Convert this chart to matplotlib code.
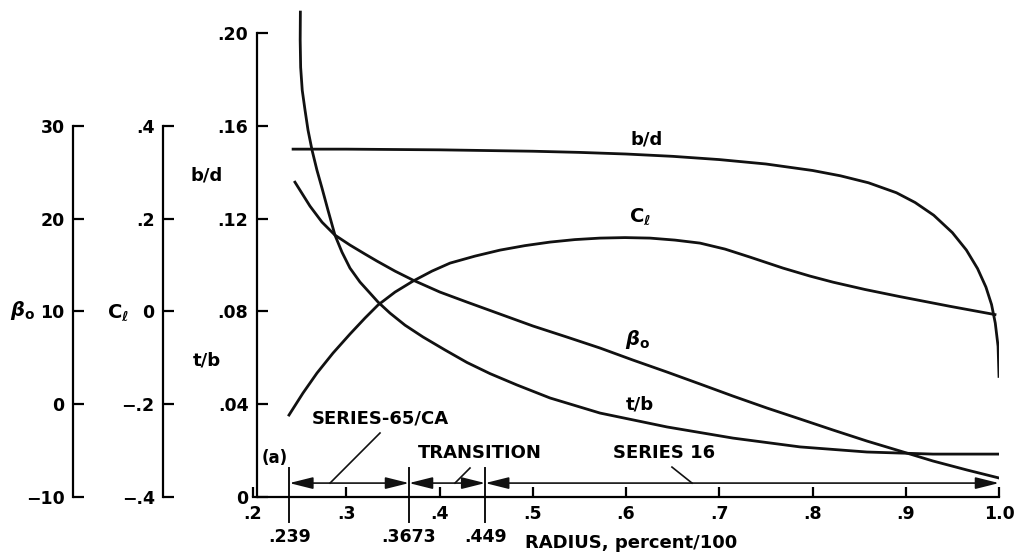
import numpy as np
import matplotlib.pyplot as plt

plt.rcParams['font.family'] = ['DejaVu Sans']
plt.rcParams['font.weight'] = 'bold'
plt.rcParams['mathtext.fontset'] = 'dejavusans'

# b/d  (main scale)
radius_bd = [0.243, 0.30, 0.40, 0.50, 0.55, 0.60, 0.65, 0.70, 0.75, 0.80, 0.83, 0.86, 0.89,
             0.91, 0.93, 0.95, 0.965, 0.977, 0.986, 0.992, 0.996, 0.999, 1.0]
bd = [0.1500, 0.1500, 0.1497, 0.1491, 0.1486, 0.1479, 0.1469, 0.1455, 0.1436, 0.1408, 0.1385,
      0.1355, 0.1312, 0.1270, 0.1215, 0.1140, 0.1065, 0.0985, 0.0905, 0.083, 0.075, 0.065, 0.052]

# t/b  (main scale)
radius_tb = [0.2508, 0.2506, 0.2511, 0.2528, 0.2558, 0.2590, 0.2633, 0.2686, 0.2740, 0.2804,
             0.2879, 0.2954, 0.3040, 0.3147, 0.3255, 0.3340, 0.3469, 0.3630, 0.3823, 0.4059,
             0.4295, 0.4542, 0.4831, 0.5185, 0.5721, 0.6440, 0.7147, 0.7866, 0.8584, 0.9292, 1.0]
tb = [0.2091, 0.1970, 0.1853, 0.1754, 0.1668, 0.1582, 0.1496, 0.1409, 0.1332, 0.1237,
      0.1129, 0.1056, 0.0987, 0.0927, 0.0879, 0.0841, 0.0793, 0.0741, 0.0690, 0.0634,
      0.0580, 0.0532, 0.0483, 0.0427, 0.0362, 0.0302, 0.0254, 0.0216, 0.0194, 0.0185, 0.0185]

# beta_o, deg
radius_beta = [0.2450, 0.2611, 0.2740, 0.2879, 0.3040, 0.3201, 0.3330, 0.3523, 0.3716, 0.4005,
               0.4295, 0.4649, 0.5003, 0.5367, 0.5721, 0.6075, 0.6440, 0.6794, 0.7147, 0.7512,
               0.7866, 0.8220, 0.8584, 0.8938, 0.9292, 0.9657, 1.0]
beta = [23.94, 21.36, 19.63, 18.23, 17.16, 16.19, 15.43, 14.35, 13.38, 12.09,
        11.01, 9.72, 8.43, 7.24, 6.06, 4.76, 3.47, 2.18, 0.88, -0.41,
        -1.59, -2.78, -3.97, -5.04, -6.12, -7.09, -7.95]

# C_l
radius_cl = [0.2386, 0.2536, 0.2686, 0.2858, 0.3040, 0.3201, 0.3340, 0.3523, 0.3716, 0.3920,
             0.4113, 0.4381, 0.4649, 0.4917, 0.5185, 0.5453, 0.5721, 0.5989, 0.6257, 0.6525,
             0.6794, 0.7062, 0.7330, 0.7684, 0.7973, 0.8220, 0.8563, 0.8938, 0.9475, 0.9957]
cl = [-0.2233, -0.1759, -0.1328, -0.0897, -0.0487, -0.0142, 0.0138, 0.0418, 0.0655, 0.0871,
      0.1043, 0.1194, 0.1323, 0.1420, 0.1496, 0.1550, 0.1582, 0.1593, 0.1582, 0.1539,
      0.1474, 0.1345, 0.1172, 0.0935, 0.0763, 0.0632, 0.0474, 0.0320, 0.0111, -0.0067]

x_ticks = [0.2, 0.3, 0.4, 0.5, 0.6, 0.7, 0.8, 0.9, 1.0]
x_labels = ['.2', '.3', '.4', '.5', '.6', '.7', '.8', '.9', '1.0']
main_ticks = [0, 0.04, 0.08, 0.12, 0.16, 0.20]
main_labels = ['0', '.04', '.08', '.12', '.16', '.20']
beta_ticks = [-10, 0, 10, 20, 30]
beta_labels = ['\u221210', '0', '10', '20', '30']
cl_ticks = [-0.4, -0.2, 0, 0.2, 0.4]
cl_labels = ['\u2212.4', '\u2212.2', '0', '.2', '.4']

bounds = [0.239, 0.3673, 0.449]
bound_labels = ['.239', '.3673', '.449']

fs = 12.5
fs_note = 13
lw = 2.0
k = '#111111'

fig = plt.figure(figsize=(10.15, 5.59), dpi=100)
ax = fig.add_axes([253 / 1015, 1 - 497 / 559, 746 / 1015, 487 / 559])
ax.set_xlim(0.2, 1.0)
ax.set_ylim(0, 0.21)

def style_axis(a, pos, lo, hi, ticks, labels):
    for s in ['top', 'right', 'bottom']:
        a.spines[s].set_visible(False)
    a.spines['left'].set_visible(True)
    a.spines['left'].set_position(('axes', pos))
    a.spines['left'].set_bounds(lo, hi)
    a.spines['left'].set_linewidth(1.6)
    a.yaxis.tick_left()
    a.set_yticks(ticks)
    a.set_yticklabels(labels)
    a.tick_params(axis='y', direction='in', length=8, width=1.6, pad=6, labelsize=fs)

style_axis(ax, 0.005, 0, 0.20, main_ticks, main_labels)
ax.spines['bottom'].set_visible(True)
ax.spines['bottom'].set_linewidth(1.6)
ax.set_xticks(x_ticks)
ax.set_xticklabels(x_labels)
ax.tick_params(axis='x', direction='in', length=7, width=1.6, pad=6, labelsize=fs)

ax_b = ax.twinx()
ax_b.set_ylim(-10, -10 + 250 * 0.21)
style_axis(ax_b, (73 - 253) / 746, -10, 30, beta_ticks, beta_labels)

ax_c = ax.twinx()
ax_c.set_ylim(-0.4, -0.4 + 5 * 0.21)
style_axis(ax_c, (163 - 253) / 746, -0.4, 0.4, cl_ticks, cl_labels)

ax.plot(radius_bd, bd, color=k, lw=lw, solid_joinstyle='round')
ax.plot(radius_tb, tb, color=k, lw=lw, solid_joinstyle='round')
ax_b.plot(radius_beta, beta, color=k, lw=lw, solid_joinstyle='round')
ax_c.plot(radius_cl, cl, color=k, lw=lw, solid_joinstyle='round')

# curve labels
ax.text(0.6225, 0.1543, 'b/d', fontsize=fs_note, ha='center', va='center')
ax.text(0.615, 0.1207, r'$\mathbf{C}_{\ell}$', fontsize=fs_note + 1, ha='center', va='center')
ax.text(0.612, 0.0681, r'$\beta_{\mathbf{o}}$', fontsize=fs_note + 1, ha='center', va='center')
ax.text(0.615, 0.0401, 't/b', fontsize=fs_note, ha='center', va='center')

# axis names on the left
ax.text(-0.0477, 0.0806, r'$\beta_{\mathbf{o}}$', fontsize=fs_note + 1, ha='center', va='center', clip_on=False)
ax.text(0.0552, 0.0793, r'$\mathbf{C}_{\ell}$', fontsize=fs_note + 1, ha='center', va='center', clip_on=False)
ax.text(0.1507, 0.059, 't/b', fontsize=fs_note, ha='center', va='center', clip_on=False)
ax.text(0.1507, 0.1388, 'b/d', fontsize=fs_note, ha='center', va='center', clip_on=False)

# section boundaries
for b, lab in zip(bounds, bound_labels):
    ax.plot([b, b], [0.0125, -0.0108], color=k, lw=1.4, clip_on=False)
    ax.text(b, -0.0172, lab, fontsize=fs, ha='center', va='center', clip_on=False)

arrow_y = 0.006
spans = [(bounds[0], bounds[1]), (bounds[1], bounds[2]), (bounds[2], 1.0)]
for a, b in spans:
    ax.annotate('', xy=(b, arrow_y), xytext=(a, arrow_y),
                arrowprops=dict(arrowstyle='<|-|>,head_length=0.8,head_width=0.2',
                                color=k, lw=1.2, mutation_scale=18, shrinkA=0, shrinkB=0))

ax.plot([0.3362, 0.2826], [0.0276, arrow_y], color=k, lw=1.2)
ax.plot([0.4327, 0.4166], [0.0125, arrow_y], color=k, lw=1.2)
ax.plot([0.6493, 0.6708], [0.0129, arrow_y], color=k, lw=1.2)

ax.text(0.2633, 0.034, 'SERIES-65/CA', fontsize=fs_note, ha='left', va='center')
ax.text(0.3769, 0.019, 'TRANSITION', fontsize=fs_note, ha='left', va='center')
ax.text(0.586, 0.019, 'SERIES 16', fontsize=fs_note, ha='left', va='center')
ax.text(0.2236, 0.0168, '(a)', fontsize=fs_note - 1, ha='center', va='center')
ax.text(0.4917, -0.0198, 'RADIUS, percent/100', fontsize=fs_note, ha='left', va='center', clip_on=False)

fig.savefig('out.png', dpi=100, facecolor='white')
